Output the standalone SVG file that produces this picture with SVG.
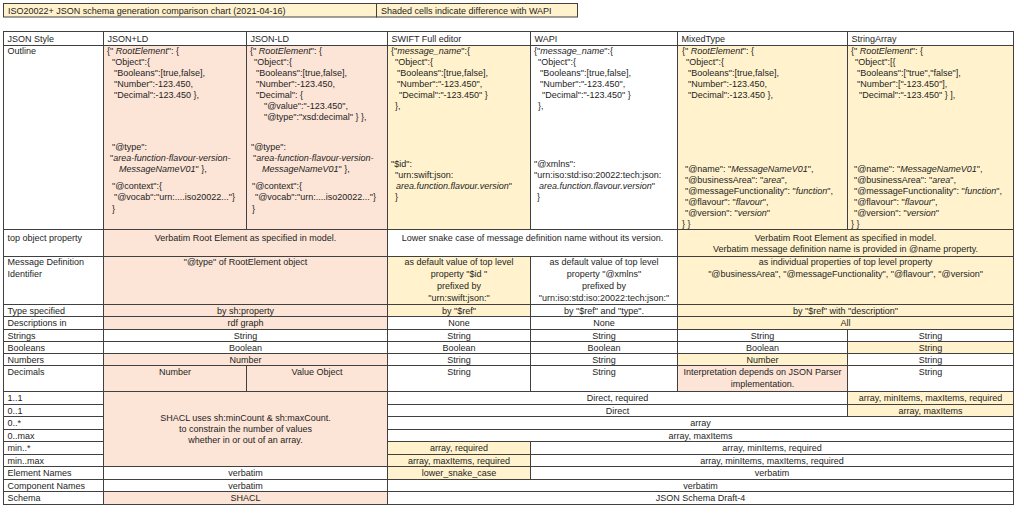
<svg xmlns="http://www.w3.org/2000/svg" width="1024" height="513" viewBox="0 0 1024 513">
<style>
.c{stroke:#404040;stroke-width:1}
.w{fill:#ffffff}.p{fill:#fce4d6}.y{fill:#fff2cc}
text{font-family:"Liberation Sans",Arial,sans-serif;font-size:9px;fill:#1e1e1e}
.m{text-anchor:middle}
.i{font-style:italic}
</style>
<rect x="0" y="0" width="1024" height="513" fill="#ffffff"/>
<g id="title">
<rect class="c y" x="3.5" y="3.5" width="373" height="13.5"/>
<text x="8" y="13.5">ISO20022+ JSON schema generation comparison chart (2021-04-16)</text>
<rect class="c y" x="376.5" y="3.5" width="201" height="13.5"/>
<text x="381" y="13.5">Shaded cells indicate difference with WAPI</text>
</g>
<g id="row-header">
<rect class="c w" x="3.5" y="31.5" width="100" height="14"/><text x="7.5" y="41.5">JSON Style</text>
<rect class="c w" x="103.5" y="31.5" width="143" height="14"/><text x="107.5" y="41.5">JSON+LD</text>
<rect class="c w" x="246.5" y="31.5" width="141" height="14"/><text x="250.5" y="41.5">JSON-LD</text>
<rect class="c w" x="387.5" y="31.5" width="143" height="14"/><text x="391.5" y="41.5">SWIFT Full editor</text>
<rect class="c w" x="530.5" y="31.5" width="147" height="14"/><text x="534.5" y="41.5">WAPI</text>
<rect class="c w" x="677.5" y="31.5" width="170" height="14"/><text x="681.5" y="41.5">MixedType</text>
<rect class="c w" x="847.5" y="31.5" width="166" height="14"/><text x="851.5" y="41.5">StringArray</text>
</g>
<g id="row-outline">
<rect class="c w" x="3.5" y="45.5" width="100" height="184"/><text x="7.5" y="54">Outline</text>
<rect class="c p" x="103.5" y="45.5" width="143" height="184"/>
<rect class="c p" x="246.5" y="45.5" width="141" height="184"/>
<rect class="c y" x="387.5" y="45.5" width="143" height="184"/>
<rect class="c w" x="530.5" y="45.5" width="147" height="184"/>
<rect class="c y" x="677.5" y="45.5" width="170" height="184"/>
<rect class="c y" x="847.5" y="45.5" width="166" height="184"/>
<g id="outline-jsonplusld" xml:space="preserve">
<text x="107" y="54">{"<tspan class="i"> RootElement</tspan>": {</text>
<text x="112" y="65">"Object":{</text>
<text x="114" y="76">"Booleans":[true,false],</text>
<text x="114" y="87">"Number":-123.450,</text>
<text x="114" y="98">"Decimal":-123.450  },</text>
<text x="112" y="150">"@type":</text>
<text x="110" y="161">"<tspan class="i">area-function-flavour-version-</tspan></text>
<text x="119" y="172"><tspan class="i">MessageNameV01</tspan>" },</text>
<text x="112" y="189">"@context":{</text>
<text x="114" y="200">"@vocab":"urn:....iso20022..."}</text>
<text x="112" y="212">}</text>
</g>
<g id="outline-jsonld" xml:space="preserve">
<text x="250" y="54">{"<tspan class="i"> RootElement</tspan>": {</text>
<text x="254" y="65">"Object":{</text>
<text x="256" y="76">"Booleans":[true,false],</text>
<text x="256" y="87">"Number":-123.450,</text>
<text x="256" y="98">"Decimal": {</text>
<text x="264" y="109">"@value":"-123.450",</text>
<text x="264" y="120">"@type":"xsd:decimal" } },</text>
<text x="251" y="150">"@type":</text>
<text x="253" y="161">"<tspan class="i">area-function-flavour-version-</tspan></text>
<text x="262" y="172"><tspan class="i">MessageNameV01</tspan>" },</text>
<text x="252" y="189">"@context":{</text>
<text x="255" y="200">"@vocab":"urn:....iso20022..."}</text>
<text x="252" y="212">}</text>
</g>
<g id="outline-swift" xml:space="preserve">
<text x="391" y="54">{"<tspan class="i">message_name</tspan>":{</text>
<text x="395" y="65">"Object":{</text>
<text x="397" y="76">"Booleans":[true,false],</text>
<text x="397" y="87">"Number":"-123.450",</text>
<text x="399" y="98">"Decimal":"-123.450"  }</text>
<text x="395" y="109">},</text>
<text x="391" y="167">"$id":</text>
<text x="395" y="178">"urn:swift:json:</text>
<text x="396" y="189"><tspan class="i">area.function.flavour.version</tspan>"</text>
<text x="395" y="200">}</text>
</g>
<g id="outline-wapi" xml:space="preserve">
<text x="534" y="54">{"<tspan class="i">message_name</tspan>":{</text>
<text x="538" y="65">"Object":{</text>
<text x="540" y="76">"Booleans":[true,false],</text>
<text x="540" y="87">"Number":"-123.450",</text>
<text x="542" y="98">"Decimal":"-123.450"  }</text>
<text x="538" y="109">},</text>
<text x="534" y="167">"@xmlns":</text>
<text x="534" y="178">"urn:iso:std:iso:20022:tech:json:</text>
<text x="539" y="189"><tspan class="i">area.function.flavour.version</tspan>"</text>
<text x="537" y="200">}</text>
</g>
<g id="outline-mixedtype" xml:space="preserve">
<text x="682" y="54">{"<tspan class="i"> RootElement</tspan>": {</text>
<text x="686" y="65">"Object":{</text>
<text x="688" y="76">"Booleans":[true,false],</text>
<text x="688" y="87">"Number":-123.450,</text>
<text x="688" y="98">"Decimal":-123.450  },</text>
<text x="685" y="172">"@name": "<tspan class="i">MessageNameV01</tspan>",</text>
<text x="685" y="183">"@businessArea": "<tspan class="i">area</tspan>",</text>
<text x="685" y="194">"@messageFunctionality": "<tspan class="i">function</tspan>",</text>
<text x="685" y="205">"@flavour": "<tspan class="i">flavour</tspan>",</text>
<text x="685" y="216">"@version": "<tspan class="i">version</tspan>"</text>
<text x="682" y="227">} }</text>
</g>
<g id="outline-stringarray" xml:space="preserve">
<text x="851" y="54">{"<tspan class="i"> RootElement</tspan>": {</text>
<text x="855" y="65">"Object":[{</text>
<text x="857" y="76">"Booleans":["true","false"],</text>
<text x="857" y="87">"Number":["-123.450"],</text>
<text x="859" y="98">"Decimal":"-123.450"  } ],</text>
<text x="854" y="172">"@name": "<tspan class="i">MessageNameV01</tspan>",</text>
<text x="854" y="183">"@businessArea": "<tspan class="i">area</tspan>",</text>
<text x="854" y="194">"@messageFunctionality": "<tspan class="i">function</tspan>",</text>
<text x="854" y="205">"@flavour": "<tspan class="i">flavour</tspan>",</text>
<text x="854" y="216">"@version": "<tspan class="i">version</tspan>"</text>
<text x="851" y="227">} }</text>
</g>
</g>
<g id="row-top-object">
<rect class="c w" x="3.5" y="229.5" width="100" height="27"/><text x="7.5" y="240.5">top object property</text>
<rect class="c p" x="103.5" y="229.5" width="284" height="27"/><text class="m" x="245.5" y="240.5">Verbatim Root Element as specified in model.</text>
<rect class="c w" x="387.5" y="229.5" width="290" height="27"/><text class="m" x="532.5" y="240.5">Lower snake case of message definition name without its version.</text>
<rect class="c y" x="677.5" y="229.5" width="336" height="27"/><text class="m" x="845.5" y="240.5">Verbatim Root Element as specified in model.</text><text class="m" x="845.5" y="252">Verbatim message definition name is provided in @name property.</text>
</g>
<g id="row-message-definition">
<rect class="c w" x="3.5" y="256.5" width="100" height="48"/><text x="7.5" y="264.5">Message Definition</text><text x="7.5" y="276.5">Identifier</text>
<rect class="c p" x="103.5" y="256.5" width="284" height="48"/><text class="m" x="245.5" y="264.5">"@type" of RootElement object</text>
<rect class="c y" x="387.5" y="256.5" width="143" height="48"/>
<text class="m" x="459" y="264.5">as default value of top level</text><text class="m" x="459" y="276.5">property "$id "</text><text class="m" x="459" y="288.5">prefixed by</text><text class="m" x="459" y="300.5">"urn:swift:json:"</text>
<rect class="c w" x="530.5" y="256.5" width="147" height="48"/>
<text class="m" x="604" y="264.5">as default value of top level</text><text class="m" x="604" y="276.5">property "@xmlns"</text><text class="m" x="604" y="288.5">prefixed by</text><text class="m" x="604" y="300.5">"urn:iso:std:iso:20022:tech:json:"</text>
<rect class="c y" x="677.5" y="256.5" width="336" height="48"/>
<text class="m" x="845.5" y="264.5">as individual properties of top level property</text><text class="m" x="845.5" y="276.5">"@businessArea", "@messageFunctionality", "@flavour", "@version"</text>
</g>
<g id="row-type">
<rect class="c w" x="3.5" y="304.5" width="100" height="12"/><text x="7.5" y="313.8">Type specified</text>
<rect class="c p" x="103.5" y="304.5" width="284" height="12"/><text class="m" x="245.5" y="313.8">by sh:property</text>
<rect class="c y" x="387.5" y="304.5" width="143" height="12"/><text class="m" x="459" y="313.8">by "$ref"</text>
<rect class="c w" x="530.5" y="304.5" width="147" height="12"/><text class="m" x="604" y="313.8">by "$ref" and "type".</text>
<rect class="c y" x="677.5" y="304.5" width="336" height="12"/><text class="m" x="845.5" y="313.8">by "$ref" with "description"</text>
</g>
<g id="row-descriptions">
<rect class="c w" x="3.5" y="316.5" width="100" height="13"/><text x="7.5" y="326.3">Descriptions in</text>
<rect class="c p" x="103.5" y="316.5" width="284" height="13"/><text class="m" x="245.5" y="326.3">rdf graph</text>
<rect class="c w" x="387.5" y="316.5" width="143" height="13"/><text class="m" x="459" y="326.3">None</text>
<rect class="c w" x="530.5" y="316.5" width="147" height="13"/><text class="m" x="604" y="326.3">None</text>
<rect class="c y" x="677.5" y="316.5" width="336" height="13"/><text class="m" x="845.5" y="326.3">All</text>
</g>
<g id="row-strings">
<rect class="c w" x="3.5" y="329.5" width="100" height="12"/><text x="7.5" y="338.8">Strings</text>
<rect class="c w" x="103.5" y="329.5" width="284" height="12"/><text class="m" x="245.5" y="338.8">String</text>
<rect class="c w" x="387.5" y="329.5" width="143" height="12"/><text class="m" x="459" y="338.8">String</text>
<rect class="c w" x="530.5" y="329.5" width="147" height="12"/><text class="m" x="604" y="338.8">String</text>
<rect class="c w" x="677.5" y="329.5" width="170" height="12"/><text class="m" x="762.5" y="338.8">String</text>
<rect class="c w" x="847.5" y="329.5" width="166" height="12"/><text class="m" x="930.5" y="338.8">String</text>
</g>
<g id="row-booleans">
<rect class="c w" x="3.5" y="341.5" width="100" height="12"/><text x="7.5" y="350.8">Booleans</text>
<rect class="c w" x="103.5" y="341.5" width="284" height="12"/><text class="m" x="245.5" y="350.8">Boolean</text>
<rect class="c w" x="387.5" y="341.5" width="143" height="12"/><text class="m" x="459" y="350.8">Boolean</text>
<rect class="c w" x="530.5" y="341.5" width="147" height="12"/><text class="m" x="604" y="350.8">Boolean</text>
<rect class="c w" x="677.5" y="341.5" width="170" height="12"/><text class="m" x="762.5" y="350.8">Boolean</text>
<rect class="c y" x="847.5" y="341.5" width="166" height="12"/><text class="m" x="930.5" y="350.8">String</text>
</g>
<g id="row-numbers">
<rect class="c w" x="3.5" y="353.5" width="100" height="12"/><text x="7.5" y="362.8">Numbers</text>
<rect class="c p" x="103.5" y="353.5" width="284" height="12"/><text class="m" x="245.5" y="362.8">Number</text>
<rect class="c w" x="387.5" y="353.5" width="143" height="12"/><text class="m" x="459" y="362.8">String</text>
<rect class="c w" x="530.5" y="353.5" width="147" height="12"/><text class="m" x="604" y="362.8">String</text>
<rect class="c y" x="677.5" y="353.5" width="170" height="12"/><text class="m" x="762.5" y="362.8">Number</text>
<rect class="c w" x="847.5" y="353.5" width="166" height="12"/><text class="m" x="930.5" y="362.8">String</text>
</g>
<g id="row-decimals">
<rect class="c w" x="3.5" y="365.5" width="100" height="26"/><text x="7.5" y="374.8">Decimals</text>
<rect class="c p" x="103.5" y="365.5" width="143" height="26"/><text class="m" x="175" y="374.8">Number</text>
<rect class="c p" x="246.5" y="365.5" width="141" height="26"/><text class="m" x="317" y="374.8">Value Object</text>
<rect class="c w" x="387.5" y="365.5" width="143" height="26"/><text class="m" x="459" y="374.8">String</text>
<rect class="c w" x="530.5" y="365.5" width="147" height="26"/><text class="m" x="604" y="374.8">String</text>
<rect class="c p" x="677.5" y="365.5" width="170" height="26"/><text class="m" x="762.5" y="374.8">Interpretation depends on JSON Parser</text><text class="m" x="762.5" y="386.5">implementation.</text>
<rect class="c w" x="847.5" y="365.5" width="166" height="26"/><text class="m" x="930.5" y="374.8">String</text>
</g>
<g id="shacl-block">
<rect class="c p" x="103.5" y="391.5" width="284" height="75"/>
<text class="m" x="245.5" y="420.5">SHACL uses sh:minCount &amp; sh:maxCount.</text>
<text class="m" x="245.5" y="431.5">to constrain the number of values</text>
<text class="m" x="245.5" y="442.5">whether in or out of an array.</text>
</g>
<g id="row-1-1">
<rect class="c w" x="3.5" y="391.5" width="100" height="13"/><text x="7.5" y="401.3">1..1</text>
<rect class="c w" x="387.5" y="391.5" width="460" height="13"/><text class="m" x="617.5" y="401.3">Direct, required</text>
<rect class="c y" x="847.5" y="391.5" width="166" height="13"/><text class="m" x="930.5" y="401.3">array, minItems, maxItems, required</text>
</g>
<g id="row-0-1">
<rect class="c w" x="3.5" y="404.5" width="100" height="12"/><text x="7.5" y="413.8">0..1</text>
<rect class="c w" x="387.5" y="404.5" width="460" height="12"/><text class="m" x="617.5" y="413.8">Direct</text>
<rect class="c y" x="847.5" y="404.5" width="166" height="12"/><text class="m" x="930.5" y="413.8">array, maxItems</text>
</g>
<g id="row-0-star">
<rect class="c w" x="3.5" y="416.5" width="100" height="13"/><text x="7.5" y="426.3">0..*</text>
<rect class="c w" x="387.5" y="416.5" width="626" height="13"/><text class="m" x="700.5" y="426.3">array</text>
</g>
<g id="row-0-max">
<rect class="c w" x="3.5" y="429.5" width="100" height="12"/><text x="7.5" y="438.8">0..max</text>
<rect class="c w" x="387.5" y="429.5" width="626" height="12"/><text class="m" x="700.5" y="438.8">array, maxItems</text>
</g>
<g id="row-min-star">
<rect class="c w" x="3.5" y="441.5" width="100" height="13"/><text x="7.5" y="451.3">min..*</text>
<rect class="c y" x="387.5" y="441.5" width="143" height="13"/><text class="m" x="459" y="451.3">array, required</text>
<rect class="c w" x="530.5" y="441.5" width="483" height="13"/><text class="m" x="772" y="451.3">array, minItems, required</text>
</g>
<g id="row-min-max">
<rect class="c w" x="3.5" y="454.5" width="100" height="12"/><text x="7.5" y="463.8">min..max</text>
<rect class="c y" x="387.5" y="454.5" width="143" height="12"/><text class="m" x="459" y="463.8">array, maxItems, required</text>
<rect class="c w" x="530.5" y="454.5" width="483" height="12"/><text class="m" x="772" y="463.8">array, minItems, maxItems, required</text>
</g>
<g id="row-element-names">
<rect class="c w" x="3.5" y="466.5" width="100" height="13"/><text x="7.5" y="476.3">Element Names</text>
<rect class="c w" x="103.5" y="466.5" width="284" height="13"/><text class="m" x="245.5" y="476.3">verbatim</text>
<rect class="c y" x="387.5" y="466.5" width="143" height="13"/><text class="m" x="459" y="476.3">lower_snake_case</text>
<rect class="c w" x="530.5" y="466.5" width="483" height="13"/><text class="m" x="772" y="476.3">verbatim</text>
</g>
<g id="row-component-names">
<rect class="c w" x="3.5" y="479.5" width="100" height="12"/><text x="7.5" y="488.8">Component Names</text>
<rect class="c w" x="103.5" y="479.5" width="284" height="12"/><text class="m" x="245.5" y="488.8">verbatim</text>
<rect class="c w" x="387.5" y="479.5" width="626" height="12"/><text class="m" x="700.5" y="488.8">verbatim</text>
</g>
<g id="row-schema">
<rect class="c w" x="3.5" y="491.5" width="100" height="13"/><text x="7.5" y="501.3">Schema</text>
<rect class="c p" x="103.5" y="491.5" width="284" height="13"/><text class="m" x="245.5" y="501.3">SHACL</text>
<rect class="c w" x="387.5" y="491.5" width="626" height="13"/><text class="m" x="700.5" y="501.3">JSON Schema Draft-4</text>
</g>
</svg>
